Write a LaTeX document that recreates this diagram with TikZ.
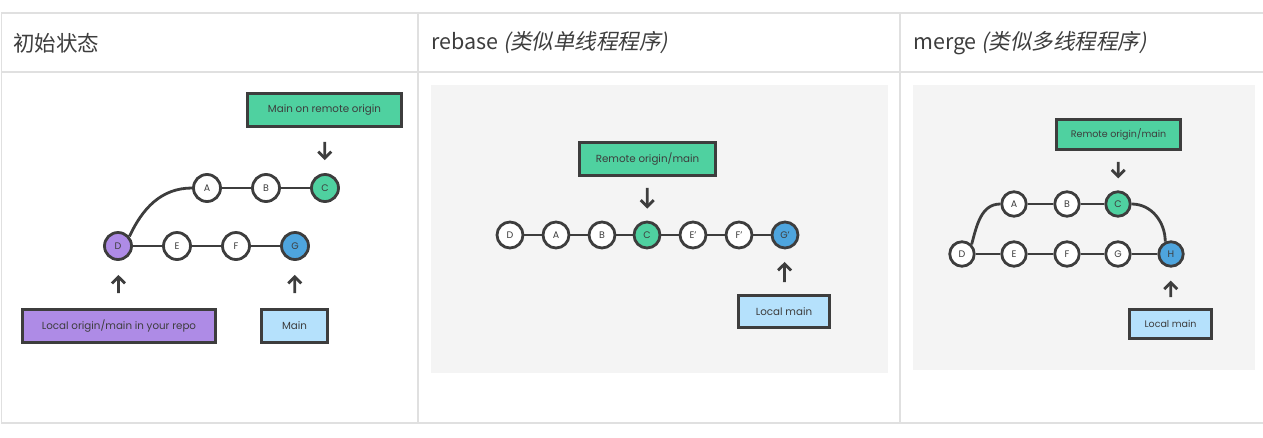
\documentclass[tikz,border=0pt]{standalone}
\usepackage{fontspec}
\setmainfont{Poppins}
\newfontfamily\cjk{Noto Sans CJK SC}
\newfontfamily\cjkit[FakeSlant=0.2]{Noto Sans CJK SC}
\usetikzlibrary{arrows.meta}
\definecolor{ink}{HTML}{3D3D3D}
\definecolor{rgreen}{HTML}{4FD1A0}
\definecolor{lpurple}{HTML}{AE8BE6}
\definecolor{gblue}{HTML}{4EA5DE}
\definecolor{mblue}{HTML}{B5E1FC}
\definecolor{panel}{HTML}{F4F4F4}
\definecolor{rule}{HTML}{E0E0E0}
\tikzstyle{commit} = [circle, draw=ink, line width=2.8pt, fill=white, minimum size=27pt, inner sep=0pt, text=ink, font=\fontsize{9.5}{10}\selectfont]
\tikzstyle{tag} = [rectangle, draw=ink, line width=2.8pt, minimum height=33pt, inner sep=0pt, text=ink, font=\fontsize{10.3}{11}\selectfont]
\tikzstyle{ptr} = [draw=ink, line width=2.8pt, -{Straight Barb[length=6.5pt,width=13pt]}]
\tikzstyle{branch} = [draw=ink, line width=2.8pt]
\tikzstyle{head} = [anchor=west, inner sep=0pt, text=ink, font=\cjk\fontsize{21.5}{24}\selectfont]

\begin{document}
\begin{tikzpicture}[x=1pt,y=-1pt]
\useasboundingbox (0,0) rectangle (1263,437);
\fill[panel] (431,85) rectangle (888,373);
\fill[panel] (913,85) rectangle (1255,370);
\draw[rule, line width=1.3pt] (1,13) -- (1263,13) (1,72) -- (1263,72) (1,423) -- (1263,423)
	(1.5,13) -- (1.5,423) (418,13) -- (418,423) (900,13) -- (900,423);

\node[head] (h1) at (13,43) {初始状态};
\node[head] (h2) at (431,43) {rebase {\cjkit (类似单线程程序)}};
\node[head] (h3) at (913,43) {merge {\cjkit (类似多线程程序)}};

\node[commit] (ia) at (207,188) {A};
\node[commit] (ib) at (266,188) {B};
\node[commit, fill=rgreen] (ic) at (325,188) {C};
\node[commit, fill=lpurple] (id) at (118,246) {D};
\node[commit] (ie) at (177,246) {E};
\node[commit] (if) at (236,246) {F};
\node[commit, fill=gblue] (ig) at (295,246) {G};
\draw[branch] (ia) -- (ib) -- (ic);
\draw[branch] (id) -- (ie) -- (if) -- (ig);
\draw[branch] (id.40) to[out=65,in=180] (ia);
\node[tag, fill=rgreen, minimum width=154pt] (iremote) at (324.5,110) {Main on remote origin};
\node[tag, fill=lpurple, minimum width=193pt] (ilocal) at (119,326) {Local origin/main in your repo};
\node[tag, fill=mblue, minimum width=66pt] (imain) at (294.5,326) {Main};
\draw[ptr, shorten <=14pt, shorten >=13pt] (iremote) -- (ic);
\draw[ptr, shorten <=15pt, shorten >=14pt] (ilocal) -- (id);
\draw[ptr, shorten <=15pt, shorten >=14pt] (imain) -- (ig);

\node[commit, minimum size=26pt] (rd) at (510,235) {D};
\node[commit, minimum size=26pt] (ra) at (556,235) {A};
\node[commit, minimum size=26pt] (rb) at (602,235) {B};
\node[commit, minimum size=26pt, fill=rgreen] (rc) at (647,235) {C};
\node[commit, minimum size=26pt] (re) at (693,235) {E’};
\node[commit, minimum size=26pt] (rf) at (739,235) {F’};
\node[commit, minimum size=26pt, fill=gblue] (rg) at (785,235) {G’};
\draw[branch] (rd) -- (ra) -- (rb) -- (rc) -- (re) -- (rf) -- (rg);
\node[tag, fill=rgreen, minimum width=136pt] (rremote) at (647.5,159) {Remote origin/main};
\node[tag, fill=mblue, minimum width=91pt, minimum height=32pt] (rmain) at (784,311.5) {Local main};
\draw[ptr, shorten <=11pt, shorten >=12pt] (rremote) -- (rc);
\draw[ptr, shorten <=12pt, shorten >=12.5pt] (rmain) -- (rg);

\node[commit, minimum size=24.5pt] (ma) at (1014,204) {A};
\node[commit, minimum size=24.5pt] (mb) at (1067,204) {B};
\node[commit, minimum size=24.5pt, fill=rgreen] (mc) at (1118,204) {C};
\node[commit, minimum size=24.5pt] (md) at (962,254) {D};
\node[commit, minimum size=24.5pt] (me) at (1014,254) {E};
\node[commit, minimum size=24.5pt] (mf) at (1067,254) {F};
\node[commit, minimum size=24.5pt] (mg) at (1118,254) {G};
\node[commit, minimum size=24.5pt, fill=gblue] (mh) at (1171,254) {H};
\draw[branch] (ma) -- (mb) -- (mc);
\draw[branch] (md) -- (me) -- (mf) -- (mg) -- (mh);
\draw[branch] (md.45) to[out=75,in=180] (ma);
\draw[branch] (mc) to[out=0,in=90] (mh.115);
\node[tag, fill=rgreen, minimum width=124pt, minimum height=30pt, font=\fontsize{9.5}{10}\selectfont] (mremote) at (1118.5,134.5) {Remote origin/main};
\node[tag, fill=mblue, minimum width=82pt, minimum height=29pt, font=\fontsize{9.5}{10}\selectfont] (mmain) at (1170.5,324) {Local main};
\draw[ptr, shorten <=11pt, shorten >=12pt] (mremote) -- (mc);
\draw[ptr, shorten <=11pt, shorten >=13pt] (mmain) -- (mh);
\end{tikzpicture}
\end{document}
